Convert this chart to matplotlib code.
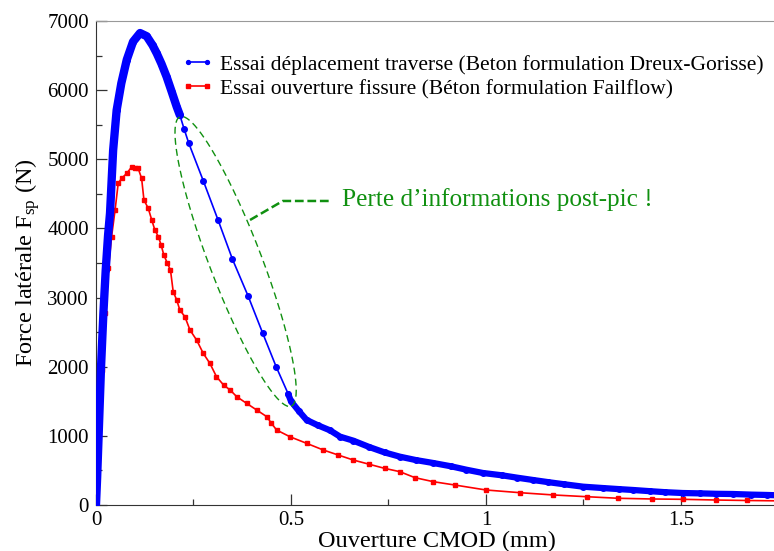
import numpy as np
import matplotlib
matplotlib.use("Agg")
from matplotlib import pyplot as plt

plt.rcParams['font.family'] = ['Liberation Serif', 'DejaVu Serif']
plt.rcParams['mathtext.fontset'] = 'custom'
plt.rcParams['mathtext.rm'] = 'Liberation Serif'
plt.rcParams['mathtext.it'] = 'Liberation Serif:italic'

# Essai deplacement traverse (Dreux-Gorisse)
cmod_dg = [0.0, 0.003, 0.008, 0.013, 0.019, 0.025, 0.031, 0.036, 0.044, 0.053,
           0.065, 0.079, 0.095, 0.113, 0.13, 0.145, 0.156, 0.168, 0.181, 0.194,
           0.207, 0.215, 0.226, 0.238, 0.275, 0.313, 0.350, 0.390, 0.427, 0.462,
           0.493, 0.50, 0.52, 0.54, 0.57, 0.60, 0.626, 0.66, 0.70, 0.74,
           0.779, 0.82, 0.865, 0.91, 0.95, 0.992, 1.04, 1.08, 1.12, 1.16,
           1.20, 1.249, 1.30, 1.34, 1.377, 1.42, 1.46, 1.505, 1.55, 1.59,
           1.633, 1.68, 1.72, 1.75]
force_dg = [0, 400, 1200, 2000, 2770, 3400, 3900, 4220, 5130, 5710,
            6100, 6440, 6700, 6826, 6780, 6650, 6530, 6380, 6195, 5980,
            5760, 5640, 5438, 5231, 4691, 4122, 3554, 3023, 2492, 2000,
            1605, 1500, 1360, 1230, 1150, 1080, 988, 930, 840, 760,
            699, 650, 607, 560, 510, 463, 430, 395, 362, 330,
            300, 265, 245, 230, 217, 200, 185, 173, 168, 162,
            159, 150, 145, 140]
sparse_dg = (21, 30)  # indices where the recorded points are far apart

# Essai ouverture fissure (Failflow)
cmod_ff = [0.0, 0.002, 0.008, 0.015, 0.023, 0.032, 0.040, 0.049, 0.057, 0.066,
           0.079, 0.092, 0.100, 0.108, 0.117, 0.123, 0.134, 0.143, 0.151, 0.160,
           0.167, 0.174, 0.183, 0.191, 0.198, 0.207, 0.215, 0.228, 0.241, 0.258,
           0.275, 0.292, 0.309, 0.327, 0.344, 0.361, 0.386, 0.412, 0.438, 0.450,
           0.463, 0.497, 0.540, 0.583, 0.621, 0.660, 0.700, 0.740, 0.779, 0.818,
           0.865, 0.920, 1.0, 1.087, 1.173, 1.258, 1.339, 1.425, 1.506, 1.59,
           1.67, 1.75]
force_ff = [0, 699, 1300, 1953, 2773, 3423, 3881, 4267, 4653, 4725,
            4797, 4893, 4880, 4870, 4725, 4411, 4291, 4122, 3977, 3881,
            3760, 3616, 3496, 3399, 3085, 2965, 2820, 2723, 2531, 2386,
            2194, 2049, 1856, 1736, 1663, 1566, 1471, 1374, 1277, 1181,
            1085, 988, 892, 795, 723, 650, 590, 530, 482, 395,
            337, 289, 217, 178, 145, 120, 97, 87, 82, 72,
            65, 60]

legend_dg = "Essai déplacement traverse (Beton formulation Dreux-Gorisse)"
legend_ff = "Essai ouverture fissure (Béton formulation Failflow)"
note = "Perte d\u2019informations post-pic !"

fig = plt.figure(figsize=(7.74, 5.51), dpi=100)
ax = fig.add_axes([0.124, 0.0835, 0.8818, 0.8784])
ax.set_xlim(0, 1.75)
ax.set_ylim(0, 7000)

blue = "#0000ff"
red = "#ff0000"
green = "#109010"

# red curve
ax.plot(cmod_ff, force_ff, color=red, lw=1.2, marker="s", ms=3.5,
        mec=red, mfc=red, label=legend_ff, zorder=3)

# blue curve: thin line with dots, thick band where the acquisition is dense
x_dg = np.array(cmod_dg)
y_dg = np.array(force_dg)
i0, i1 = sparse_dg
ax.plot(x_dg[:i0 + 1], y_dg[:i0 + 1], color=blue, lw=6, solid_capstyle="round", zorder=4)
ax.plot(x_dg[i1:], y_dg[i1:], color=blue, lw=4.5, solid_capstyle="round", zorder=4)
ax.plot(x_dg, y_dg, color=blue, lw=1.2, marker="o", ms=4, label=legend_dg, zorder=4)

# dashed ellipse around the missing post-peak part (drawn in screen space)
fig.canvas.draw()
p0 = ax.transData.transform((0, 0))
px_x = ax.transData.transform((1, 0))[0] - p0[0]
px_y = ax.transData.transform((0, 1000))[1] - p0[1]
cx, cy = 0.358, 3522
a_px, b_px, ang = 155, 26, np.deg2rad(-69)
t = np.linspace(0, 2 * np.pi, 200)
ex = a_px * np.cos(t) * np.cos(ang) - b_px * np.sin(t) * np.sin(ang)
ey = a_px * np.cos(t) * np.sin(ang) + b_px * np.sin(t) * np.cos(ang)
ax.plot(cx + ex / px_x, cy + ey / px_y * 1000, color=green, lw=1.0,
        dashes=(5, 3), zorder=5)

# leader and note
ax.plot([0.395, 0.479, 0.600], [4122, 4397, 4397], color=green, lw=1.8,
        dashes=(3.5, 1.5), zorder=5)
ax.text(0.631, 4411, note, color=green, fontsize=18.2, va="center", ha="left")

ax.set_xticks([0, 0.5, 1, 1.5])
ax.set_xticklabels(["0", "0.5", "1", "1.5"])
ax.set_xticks([0.25, 0.75, 1.25, 1.75], minor=True)
ax.set_yticks(range(0, 7001, 1000))
ax.set_yticks(range(500, 7000, 1000), minor=True)
ax.tick_params(which="both", direction="in", colors="#333333", labelcolor="black",
               labelsize=15)
ax.tick_params(which="major", length=8, width=0.9)
ax.tick_params(which="minor", length=4.5, width=0.9)
ax.tick_params(axis="y", pad=5)
ax.tick_params(axis="x", pad=4)
for side in ["left", "bottom"]:
    ax.spines[side].set_color("#333333")
ax.spines["top"].set_color("#999999")
ax.spines["right"].set_color("#999999")

ax.set_xlabel("Ouverture CMOD (mm)", fontsize=17.5, labelpad=1)
ax.set_ylabel("Force latérale F$_{\\mathrm{sp}}$ (N)", fontsize=17.5, labelpad=4)

h, l = ax.get_legend_handles_labels()
leg = ax.legend(h[::-1], l[::-1], loc="upper left", bbox_to_anchor=(0.234, 0.901),
                bbox_transform=fig.transFigure, frameon=False, fontsize=15.5,
                numpoints=2, markerscale=0.7, handlelength=1.5, handletextpad=0.3,
                labelspacing=0.2, borderaxespad=0, borderpad=0)

fig.savefig("out.png", dpi=100)
